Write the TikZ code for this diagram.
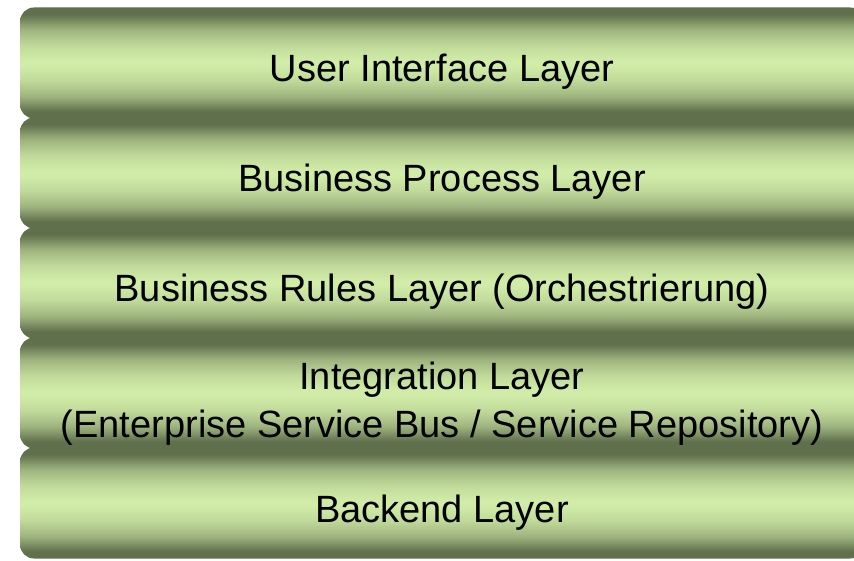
\documentclass[tikz,border=0pt]{standalone}
\usepackage{fontspec}
\setmainfont{Liberation Sans}
\definecolor{layerdark}{RGB}{96,111,76}
\definecolor{layerlight}{RGB}{209,236,168}
\colorlet{layermid}{layerlight!55!layerdark}
\colorlet{layerpale}{layerlight!85!layerdark}
% path is fitted to 25bp--75bp of the shading
\pgfdeclareverticalshading{layershade}{100bp}{color(0bp)=(layerdark); color(28bp)=(layerdark);
  color(35bp)=(layermid); color(42bp)=(layerpale); color(49bp)=(layerlight); color(51bp)=(layerlight);
  color(58bp)=(layerpale); color(65bp)=(layermid); color(72bp)=(layerdark); color(100bp)=(layerdark)}
\tikzset{
  layer/.style={rounded corners=14pt, minimum width=844pt, minimum height=111pt, inner sep=0pt,
    shading=layershade},
  layertext/.style={anchor=base, align=center, inner sep=0pt, font=\fontsize{38}{48}\selectfont}
}
\begin{document}
\begin{tikzpicture}[x=1pt,y=1pt]
	\useasboundingbox (0,0) rectangle (854,560);
	\clip (0,0) rectangle (854,560);
	\node[layer] (ui) at (442,497) {}; % user interface
	\node[layer] (process) at (442,387) {}; % business process
	\node[layer] (rules) at (442,277) {}; % business rules
	\node[layer] (integration) at (442,167) {}; % integration
	\node[layer] (backend) at (442,57) {}; % backend
	\node[layertext] (uitext) at (442,478) {User Interface Layer};
	\node[layertext] (processtext) at (442,368) {Business Process Layer};
	\node[layertext] (rulestext) at (442,258) {Business Rules Layer (Orchestrierung)};
	\node[layertext] (integrationtext) at (442,123) {Integration Layer\\(Enterprise Service Bus / Service Repository)}; % base = last line
	\node[layertext] (backendtext) at (442,38) {Backend Layer};
\end{tikzpicture}
\end{document}
